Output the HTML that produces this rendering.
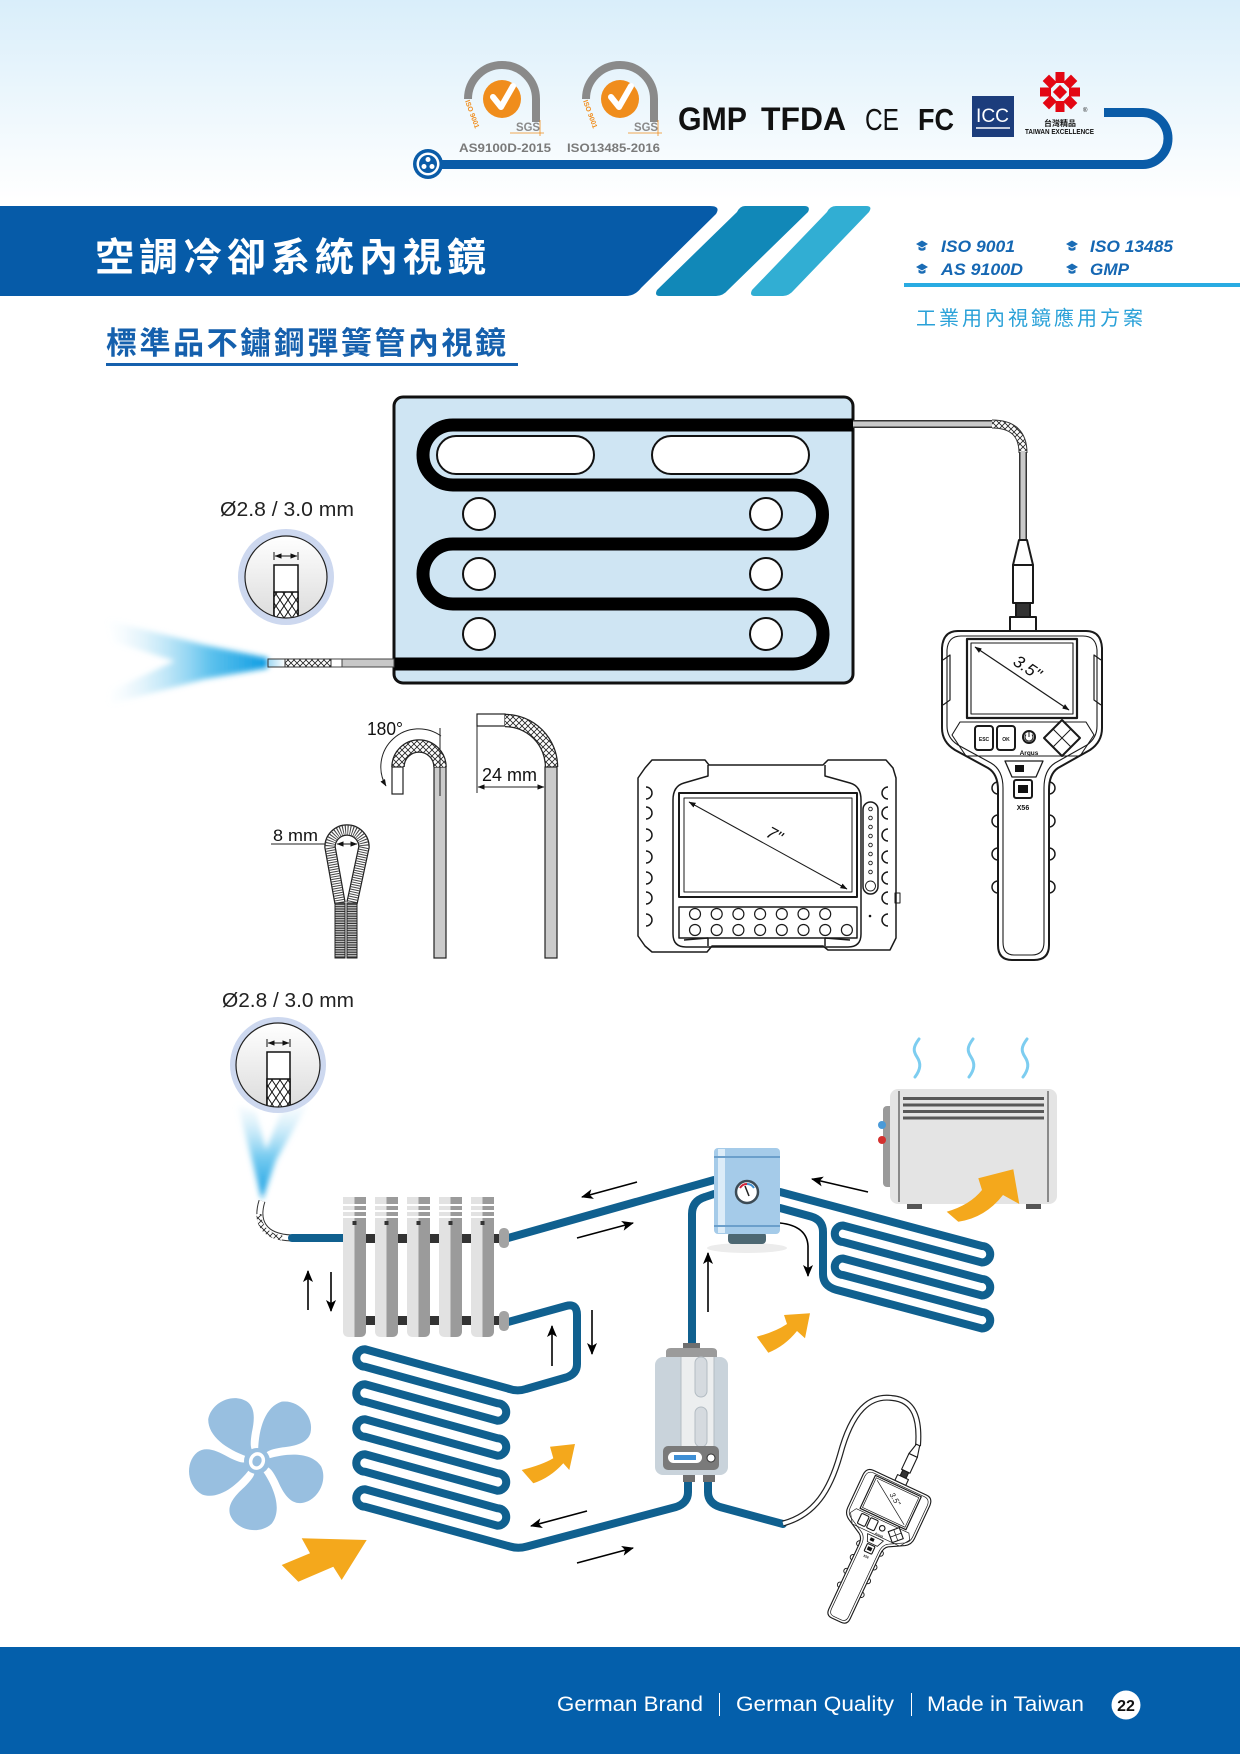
<!DOCTYPE html>
<html lang="zh-Hant"><head><meta charset="utf-8"><title>空調冷卻系統內視鏡</title>
<style>
html,body{margin:0;padding:0;background:#fff;width:1240px;height:1754px;overflow:hidden}
svg{display:block}
text{font-family:"Liberation Sans","Noto Sans CJK TC",sans-serif}
</style></head><body>
<svg xmlns="http://www.w3.org/2000/svg" width="1240" height="1754" viewBox="0 0 1240 1754">
<defs>
 <linearGradient id="bg" x1="0" y1="0" x2="0" y2="1">
  <stop offset="0" stop-color="#d9eefa"/><stop offset="1" stop-color="#ffffff"/>
 </linearGradient>
 <linearGradient id="badge" x1="0" y1="0" x2="0" y2="1">
  <stop offset="0" stop-color="#ffffff"/><stop offset="1" stop-color="#dcdcdc"/>
 </linearGradient>
 <linearGradient id="beam1" gradientUnits="userSpaceOnUse" x1="268" y1="0" x2="105" y2="0">
  <stop offset="0" stop-color="#0b9be2"/><stop offset="0.35" stop-color="#3fb6ea" stop-opacity="0.85"/><stop offset="1" stop-color="#d4ecf8" stop-opacity="0"/>
 </linearGradient>
 <linearGradient id="beam2" gradientUnits="userSpaceOnUse" x1="0" y1="1200" x2="0" y2="1105">
  <stop offset="0" stop-color="#0b9be2"/><stop offset="0.45" stop-color="#53bdec" stop-opacity="0.8"/><stop offset="1" stop-color="#d8eef9" stop-opacity="0.2"/>
 </linearGradient>
 <linearGradient id="tip" x1="0" y1="0" x2="1" y2="0">
  <stop offset="0" stop-color="#9fd8f3"/><stop offset="1" stop-color="#ffffff"/>
 </linearGradient>
 <filter id="blur" x="-30%" y="-30%" width="160%" height="160%"><feGaussianBlur stdDeviation="3"/></filter>
 <pattern id="braid" width="6" height="6" patternUnits="userSpaceOnUse">
  <rect width="6" height="6" fill="#fff"/><path d="M0,0 L6,6 M6,0 L0,6" stroke="#222" stroke-width="0.8"/>
 </pattern>
 <pattern id="braid2" width="8" height="12" patternUnits="userSpaceOnUse">
  <rect width="8" height="12" fill="#fff"/><path d="M0,0 L8,12 M8,0 L0,12" stroke="#111" stroke-width="1"/>
 </pattern>
 <pattern id="rib" width="4" height="2.4" patternUnits="userSpaceOnUse">
  <rect width="4" height="2.4" fill="#d0d0d0"/><rect y="1.2" width="4" height="1.2" fill="#333"/>
 </pattern>
 <clipPath id="c1"><circle cx="286" cy="577" r="41"/></clipPath>
 <clipPath id="c2"><circle cx="278" cy="1065" r="42"/></clipPath>
 <marker id="ah" viewBox="0 0 12 10" refX="11" refY="5" markerWidth="12" markerHeight="10" markerUnits="userSpaceOnUse" orient="auto">
  <path d="M0,0 L12,5 L0,10 L3,5 Z" fill="#000"/>
 </marker>
 <marker id="dm" viewBox="0 0 8 6" refX="7.5" refY="3" markerWidth="7" markerHeight="6" markerUnits="userSpaceOnUse" orient="auto-start-reverse">
  <path d="M0,0 L8,3 L0,6 Z" fill="#111"/>
 </marker>
</defs>

<!-- ===== HEADER ===== -->
<rect x="0" y="0" width="1240" height="200" fill="url(#bg)"/>

<!-- SGS logo 1 -->
<g>
 <path d="M536,122 V99 A34,34 0 0 0 468,99" fill="none" stroke="#8a8a8a" stroke-width="8"/>
 <circle cx="502" cy="99" r="19" fill="#f08d1c"/>
 <path d="M493,97 L501,107 L513,86" fill="none" stroke="#fff" stroke-width="6" stroke-linecap="round" stroke-linejoin="round"/>
 <text transform="translate(465,101) rotate(70)" font-size="7" font-weight="bold" fill="#f08d1c">ISO 9001</text>
 <text x="516" y="131" font-size="12" font-weight="bold" fill="#8a8a8a" textLength="24" lengthAdjust="spacingAndGlyphs">SGS</text>
 <path d="M510,133 H544 M540,120 V136" stroke="#f08d1c" stroke-width="0.8"/>
 <text x="459" y="152" font-size="12" font-weight="bold" fill="#7a7a7a" textLength="92" lengthAdjust="spacingAndGlyphs">AS9100D-2015</text>
</g>
<!-- SGS logo 2 -->
<g>
 <path d="M654,122 V99 A34,34 0 0 0 586,99" fill="none" stroke="#8a8a8a" stroke-width="8"/>
 <circle cx="620" cy="99" r="19" fill="#f08d1c"/>
 <path d="M611,97 L619,107 L631,86" fill="none" stroke="#fff" stroke-width="6" stroke-linecap="round" stroke-linejoin="round"/>
 <text transform="translate(583,101) rotate(70)" font-size="7" font-weight="bold" fill="#f08d1c">ISO 9001</text>
 <text x="634" y="131" font-size="12" font-weight="bold" fill="#8a8a8a" textLength="24" lengthAdjust="spacingAndGlyphs">SGS</text>
 <path d="M628,133 H662 M658,120 V136" stroke="#f08d1c" stroke-width="0.8"/>
 <text x="567" y="152" font-size="12" font-weight="bold" fill="#7a7a7a" textLength="93" lengthAdjust="spacingAndGlyphs">ISO13485-2016</text>
</g>
<text x="678" y="130" font-size="32" font-weight="bold" fill="#111" textLength="69" lengthAdjust="spacingAndGlyphs">GMP</text>
<text x="761" y="130" font-size="32" font-weight="bold" fill="#111" textLength="85" lengthAdjust="spacingAndGlyphs">TFDA</text>
<text x="865" y="130" font-size="31" fill="#111" textLength="34" lengthAdjust="spacingAndGlyphs">CE</text>
<text x="918" y="130" font-size="31" font-weight="bold" fill="#111" textLength="36" lengthAdjust="spacingAndGlyphs">FC</text>
<rect x="972" y="96" width="42" height="41" fill="#1c3d7c"/>
<text x="976" y="122" font-size="19" fill="#fff" textLength="33" lengthAdjust="spacingAndGlyphs">ICC</text>
<path d="M976,128 H1010" stroke="#fff" stroke-width="1.5"/>
<g transform="translate(1060,92)" fill="#e30613">
 <rect x="-4.5" y="-20" width="9" height="11" transform="rotate(0)"/>
 <rect x="-4.5" y="-20" width="9" height="11" transform="rotate(45)"/>
 <rect x="-4.5" y="-20" width="9" height="11" transform="rotate(90)"/>
 <rect x="-4.5" y="-20" width="9" height="11" transform="rotate(135)"/>
 <rect x="-4.5" y="-20" width="9" height="11" transform="rotate(180)"/>
 <rect x="-4.5" y="-20" width="9" height="11" transform="rotate(225)"/>
 <rect x="-4.5" y="-20" width="9" height="11" transform="rotate(270)"/>
 <rect x="-4.5" y="-20" width="9" height="11" transform="rotate(315)"/>
 <rect x="-5" y="-5" width="10" height="10" transform="rotate(45)"/>
</g>
<text x="1083" y="112" font-size="6" fill="#111">®</text>
<text x="1060" y="126" font-size="8" font-weight="bold" fill="#111" text-anchor="middle">台灣精品</text>
<text x="1025" y="134" font-size="7" font-weight="bold" fill="#111" textLength="69" lengthAdjust="spacingAndGlyphs">TAIWAN EXCELLENCE</text>

<!-- blue line -->
<path d="M1104,112.5 H1142 A26,26 0 0 1 1168,138.5 A26,26 0 0 1 1142,164.5 H430" fill="none" stroke="#0a5ca8" stroke-width="9"/>
<circle cx="428" cy="164" r="15" fill="#0a5ca8"/>
<circle cx="428" cy="164" r="11.5" fill="#fff"/>
<circle cx="428" cy="164" r="9" fill="#0a5ca8"/>
<circle cx="428" cy="159.5" r="2.5" fill="#fff"/>
<circle cx="424" cy="166.5" r="2.5" fill="#fff"/>
<circle cx="432" cy="166.5" r="2.5" fill="#fff"/>

<!-- ===== BANNER ===== -->
<path d="M0,206 H710 Q721,206 716,214 L641,288 Q635,296 625,296 H0 Z" fill="#065ba8"/>
<path d="M745,206 H804 Q811,206 808,212 L728,290 Q723,296 716,296 H660 Q654,296 657,290 L737,212 Q740,206 745,206 Z" fill="#1188b8"/>
<path d="M836,206 H866 Q873,206 869,212 L794,290 Q789,296 783,296 H755 Q749,296 752,290 L827,212 Q830,206 836,206 Z" fill="#31aed3"/>
<text x="95" y="271" font-size="39" font-weight="bold" fill="#fff" textLength="391">空調冷卻系統內視鏡</text>

<g fill="#1a6cb5">
 <path d="M916,244 l6,-3.5 l6,3.5 l-6,3.5z M918.5,246.5 v3 q3.5,2.5 7,0 v-3 l-3.5,2z"/>
 <path d="M1066,244 l6,-3.5 l6,3.5 l-6,3.5z M1068.5,246.5 v3 q3.5,2.5 7,0 v-3 l-3.5,2z"/>
 <path d="M916,267 l6,-3.5 l6,3.5 l-6,3.5z M918.5,269.5 v3 q3.5,2.5 7,0 v-3 l-3.5,2z"/>
 <path d="M1066,267 l6,-3.5 l6,3.5 l-6,3.5z M1068.5,269.5 v3 q3.5,2.5 7,0 v-3 l-3.5,2z"/>
</g>
<g font-size="17" font-weight="bold" font-style="italic" fill="#1567b3">
 <text x="941" y="252" textLength="74" lengthAdjust="spacingAndGlyphs">ISO 9001</text>
 <text x="1090" y="252" textLength="83" lengthAdjust="spacingAndGlyphs">ISO 13485</text>
 <text x="941" y="275" textLength="82" lengthAdjust="spacingAndGlyphs">AS 9100D</text>
 <text x="1090" y="275" textLength="39" lengthAdjust="spacingAndGlyphs">GMP</text>
</g>
<rect x="904" y="283" width="336" height="4" fill="#29abe2"/>
<text x="916" y="325" font-size="20" fill="#2aa1d8" textLength="227">工業用內視鏡應用方案</text>

<text x="106" y="354" font-size="31" font-weight="bold" fill="#1560ad" textLength="400">標準品不鏽鋼彈簧管內視鏡</text>
<rect x="106" y="363" width="412" height="3" fill="#1560ad"/>

<!-- ===== DIAGRAM 1 : PANEL ===== -->
<rect x="394" y="397" width="459" height="286" rx="9" fill="#cfe5f3" stroke="#111" stroke-width="3"/>
<path d="M853,425 H453 A30,30 0 0 0 453,485 H793 A29.5,29.5 0 0 1 793,544 H453 A30,30 0 0 0 453,604 H793 A30,30 0 0 1 793,664 H394" fill="none" stroke="#000" stroke-width="13"/>
<g fill="#fff" stroke="#111" stroke-width="2">
 <rect x="437" y="436" width="157" height="38" rx="19"/>
 <rect x="652" y="436" width="157" height="38" rx="19"/>
 <circle cx="479" cy="514" r="16"/><circle cx="766" cy="514" r="16"/>
 <circle cx="479" cy="574" r="16"/><circle cx="766" cy="574" r="16"/>
 <circle cx="479" cy="634" r="16"/><circle cx="766" cy="634" r="16"/>
</g>

<!-- left probe + beam -->
<path d="M268,658 L205,645 L108,620 L114,642 L175,661 L112,690 L110,704 L205,679 L268,668 Z" fill="url(#beam1)" filter="url(#blur)"/>
<rect x="342" y="659" width="52" height="8" fill="#c8c8c8" stroke="#444" stroke-width="1"/>
<rect x="331" y="659" width="11" height="8" fill="#fff" stroke="#444" stroke-width="1"/>
<rect x="285" y="659" width="46" height="8" fill="url(#braid)" stroke="#333" stroke-width="1"/>
<rect x="268" y="659" width="17" height="8" fill="url(#tip)" stroke="#333" stroke-width="1"/>

<!-- badge 1 -->
<text x="220" y="516" font-size="20" fill="#222" textLength="134" lengthAdjust="spacingAndGlyphs">Ø2.8 / 3.0 mm</text>
<circle cx="286" cy="577" r="48" fill="#cdd8ef"/>
<circle cx="286" cy="577" r="41" fill="url(#badge)"/>
<g clip-path="url(#c1)">
 <rect x="274" y="565" width="24" height="60" fill="#fff" stroke="#111" stroke-width="1.5"/>
 <rect x="274" y="592" width="24" height="33" fill="url(#braid2)" stroke="#111" stroke-width="1.5"/>
</g>
<circle cx="286" cy="577" r="41" fill="none" stroke="#222" stroke-width="1.2"/>
<path d="M274,552 V560 M298,552 V560" stroke="#111" stroke-width="1"/>
<line x1="275" y1="556" x2="297" y2="556" stroke="#111" stroke-width="1" marker-start="url(#dm)" marker-end="url(#dm)"/>

<!-- right cable -->
<path d="M853,424 H992" stroke="#333" stroke-width="8" fill="none"/>
<path d="M853,424 H993" stroke="#c9c9c9" stroke-width="5" fill="none"/>
<path d="M992,424 Q1023,424 1023,453" stroke="#333" stroke-width="9" fill="none"/>
<path d="M992,424 Q1023,424 1023,453" stroke="url(#braid)" stroke-width="7" fill="none"/>
<path d="M1023,452 V541" stroke="#333" stroke-width="8" fill="none"/>
<path d="M1023,451 V541" stroke="#c9c9c9" stroke-width="5" fill="none"/>

<!-- X56 device (big) -->
<g fill="#fff" stroke="#1a1a1a" stroke-width="2" stroke-linejoin="round">
 <path d="M1019,540 H1027 L1033,565 H1013 Z"/>
 <rect x="1013" y="565" width="20" height="38"/>
 <rect x="1016" y="603" width="14" height="14" fill="#333"/>
 <rect x="1010" y="617" width="26" height="14"/>
 <path d="M958,631 H1086 Q1101,631 1102,648 V728 Q1102,742 1090,750 L1058,768 Q1049,774 1049,790 V945 Q1049,960 1034,960 H1012 Q998,960 998,945 V790 Q998,774 988,768 L955,750 Q942,742 942,728 V648 Q943,631 958,631 Z"/>
 <path d="M961,636 H1083 Q1096,636 1097,650 V726 Q1097,738 1087,745 L1055,763 Q1044,770 1044,788 V942 Q1044,955 1032,955 H1014 Q1003,955 1003,942 V788 Q1003,770 991,763 L958,745 Q947,738 947,726 V650 Q948,636 961,636 Z" fill="none" stroke-width="1.1"/>
 <path d="M943,660 L950,655 V700 L943,705 M1101,660 L1094,655 V700 L1101,705" fill="none" stroke-width="1.2"/>
 <path d="M998,782 A6,6 0 0 0 998,794 M998,815 A6,6 0 0 0 998,827 M998,848 A6,6 0 0 0 998,860 M998,881 A6,6 0 0 0 998,893" fill="none" stroke-width="1.5"/>
 <path d="M1049,782 A6,6 0 0 1 1049,794 M1049,815 A6,6 0 0 1 1049,827 M1049,848 A6,6 0 0 1 1049,860 M1049,881 A6,6 0 0 1 1049,893" fill="none" stroke-width="1.5"/>
 <rect x="967" y="639" width="110" height="79" stroke-width="2.2"/>
 <rect x="971" y="643" width="102" height="71" stroke-width="1.1" fill="none"/>
 <line x1="975" y1="647" x2="1069" y2="710" stroke-width="1.2" marker-start="url(#dm)" marker-end="url(#dm)"/>
 <path d="M960,722 H1086 L1094,735 L1080,756 H966 L952,735 Z" fill="none" stroke-width="1.1"/>
 <rect x="975" y="726" width="18" height="24" rx="3"/>
 <rect x="997" y="726" width="18" height="24" rx="3"/>
 <circle cx="1029" cy="737" r="6"/>
 <path d="M1029,732 V737 M1026,734.5 A4,4 0 1 0 1032,734.5" fill="none" stroke-width="1"/>
 <path d="M1062,720 L1080,738 L1062,756 L1044,738 Z"/>
 <path d="M1053,729 L1071,747 M1071,729 L1053,747" fill="none" stroke-width="1"/>
 <path d="M1005,761 H1043 L1036,777 H1012 Z" fill="none" stroke-width="1.3"/>
 <rect x="1015" y="765" width="9" height="7" fill="#111" stroke="none"/>
 <rect x="1014" y="780" width="18" height="18" rx="2"/>
 <rect x="1018" y="785" width="10" height="8" fill="#111" stroke="none"/>
</g>
<g fill="#111">
 <text transform="translate(1012,664) rotate(34)" font-size="17" font-style="italic">3.5"</text>
 <text x="984" y="741" font-size="5" font-weight="bold" text-anchor="middle">ESC</text>
 <text x="1006" y="741" font-size="5" font-weight="bold" text-anchor="middle">OK</text>
 <text x="1029" y="755" font-size="6.5" font-weight="bold" text-anchor="middle">Argus</text>
 <text x="1023" y="810" font-size="7" font-weight="bold" text-anchor="middle">X56</text>
</g>

<!-- 7 inch device -->
<g fill="none" stroke="#1a1a1a" stroke-width="1.5" stroke-linejoin="round">
 <path d="M645,768 L652,760 H705 L709,765 H823 L828,760 H886 L893,768 L896,778 V938 L890,950 H828 L823,946 H712 L707,952 H652 L645,946 L638,936 V778 Z" fill="#fff"/>
 <path d="M708,765 V776 L684,783 Q673,786 673,800 V934 Q673,947 686,947 H848 Q861,947 861,934 V800 Q861,786 850,783 L825,776 V765"/>
 <path d="M708,946 V938 L684,940 M825,946 V938 L850,940"/>
 <path d="M646,787 A6,6 0 0 1 646,799 M646,807 A6,6 0 0 1 646,819 M646,829 A6,6 0 0 1 646,841 M646,851 A6,6 0 0 1 646,863 M646,872 A6,6 0 0 1 646,884 M646,892 A6,6 0 0 1 646,904 M646,914 A6,6 0 0 1 646,926"/>
 <path d="M888,787 A6,6 0 0 0 888,799 M888,807 A6,6 0 0 0 888,819 M888,829 A6,6 0 0 0 888,841 M888,851 A6,6 0 0 0 888,863 M888,872 A6,6 0 0 0 888,884 M888,892 A6,6 0 0 0 888,904 M888,914 A6,6 0 0 0 888,926"/>
 <rect x="679" y="793" width="178" height="104" stroke-width="2"/>
 <rect x="684" y="798" width="168" height="94" stroke-width="1"/>
 <line x1="689" y1="802" x2="847" y2="889" stroke-width="1" marker-start="url(#dm)" marker-end="url(#dm)"/>
 <rect x="679" y="907" width="178" height="31"/>
 <rect x="863" y="802" width="15" height="92" rx="7.5"/>
 <rect x="895" y="893" width="5" height="10" stroke-width="1"/>
 <g stroke-width="1.2">
  <circle cx="695" cy="914" r="5.5"/><circle cx="716.7" cy="914" r="5.5"/><circle cx="738.4" cy="914" r="5.5"/><circle cx="760.1" cy="914" r="5.5"/><circle cx="781.8" cy="914" r="5.5"/><circle cx="803.5" cy="914" r="5.5"/><circle cx="825.2" cy="914" r="5.5"/>
  <circle cx="695" cy="930" r="5.5"/><circle cx="716.7" cy="930" r="5.5"/><circle cx="738.4" cy="930" r="5.5"/><circle cx="760.1" cy="930" r="5.5"/><circle cx="781.8" cy="930" r="5.5"/><circle cx="803.5" cy="930" r="5.5"/><circle cx="825.2" cy="930" r="5.5"/><circle cx="846.9" cy="930" r="5.5"/>
 </g>
 <g stroke-width="0.9">
  <circle cx="870.5" cy="809" r="1.8"/><circle cx="870.5" cy="818" r="1.8"/><circle cx="870.5" cy="827" r="1.8"/><circle cx="870.5" cy="836" r="1.8"/><circle cx="870.5" cy="845" r="1.8"/><circle cx="870.5" cy="854" r="1.8"/><circle cx="870.5" cy="863" r="1.8"/><circle cx="870.5" cy="872" r="1.8"/>
  <circle cx="870.5" cy="886" r="5"/>
 </g>
</g>
<circle cx="870" cy="916" r="1.3" fill="#111"/>
<text transform="translate(765,836) rotate(29)" font-size="17" font-style="italic" fill="#111">7"</text>

<!-- bends -->
<text x="367" y="735" font-size="18" fill="#111" textLength="36" lengthAdjust="spacingAndGlyphs">180°</text>
<rect x="434" y="767" width="12" height="191" fill="#cbcbcb" stroke="#222" stroke-width="1.2"/>
<path d="M398,767 A21,21 0 0 1 440,767" fill="none" stroke="#222" stroke-width="13.5"/>
<path d="M398,767 A21,21 0 0 1 440,767" fill="none" stroke="url(#braid)" stroke-width="11"/>
<rect x="392" y="767" width="11" height="27" fill="#fff" stroke="#222" stroke-width="1.2"/>
<line x1="440" y1="728" x2="440" y2="796" stroke="#222" stroke-width="1"/>
<path d="M441,736 A38,38 0 0 0 386,786" fill="none" stroke="#222" stroke-width="1" marker-end="url(#dm)"/>

<rect x="477" y="714" width="28" height="12" fill="#fff" stroke="#222" stroke-width="1.2"/>
<path d="M505,720.5 A46.5,46.5 0 0 1 551.5,767" fill="none" stroke="#222" stroke-width="13.5"/>
<path d="M505,720.5 A46.5,46.5 0 0 1 551.5,767" fill="none" stroke="url(#braid)" stroke-width="11"/>
<rect x="545" y="767" width="12" height="191" fill="#cbcbcb" stroke="#222" stroke-width="1.2"/>
<line x1="477" y1="726" x2="477" y2="793" stroke="#222" stroke-width="1"/>
<line x1="478" y1="787" x2="544" y2="787" stroke="#222" stroke-width="1" marker-start="url(#dm)" marker-end="url(#dm)"/>
<text x="482" y="781" font-size="18" fill="#111" textLength="55" lengthAdjust="spacingAndGlyphs">24 mm</text>

<!-- 8 mm loop -->
<text x="273" y="841" font-size="17" fill="#111" textLength="45" lengthAdjust="spacingAndGlyphs">8 mm</text>
<line x1="271" y1="844" x2="330" y2="844" stroke="#222" stroke-width="1"/>
<path d="M340,903 L330,847 A17,17 0 0 1 364,847 L352,903" fill="none" stroke="#222" stroke-width="11.5" stroke-linejoin="round"/>
<path d="M340,903 L330,847 A17,17 0 0 1 364,847 L352,903" fill="none" stroke="#fff" stroke-width="9" stroke-linejoin="round"/>
<path d="M340,903 L330,847 A17,17 0 0 1 364,847 L352,903" fill="none" stroke="#444" stroke-width="9" stroke-dasharray="1 1.4"/>
<line x1="337" y1="844" x2="357" y2="844" stroke="#111" stroke-width="1" marker-start="url(#dm)" marker-end="url(#dm)"/>
<rect x="335" y="903" width="10" height="55" fill="url(#rib)" stroke="#222" stroke-width="1"/>
<rect x="347" y="903" width="10" height="55" fill="url(#rib)" stroke="#222" stroke-width="1"/>

<!-- ===== DIAGRAM 2 : AC SYSTEM ===== -->
<text x="222" y="1007" font-size="20" fill="#222" textLength="132" lengthAdjust="spacingAndGlyphs">Ø2.8 / 3.0 mm</text>
<path d="M262,1200 L252,1160 L238,1106 L256,1112 L266,1150 L282,1110 L308,1104 L276,1160 Z" fill="url(#beam2)" filter="url(#blur)"/>
<circle cx="278" cy="1065" r="48" fill="#cdd8ef"/>
<circle cx="278" cy="1065" r="42" fill="url(#badge)"/>
<g clip-path="url(#c2)">
 <rect x="267" y="1052" width="23" height="60" fill="#fff" stroke="#111" stroke-width="1.5"/>
 <rect x="267" y="1079" width="23" height="33" fill="url(#braid2)" stroke="#111" stroke-width="1.5"/>
</g>
<circle cx="278" cy="1065" r="42" fill="none" stroke="#222" stroke-width="1.2"/>
<path d="M267,1039 V1047 M290,1039 V1047" stroke="#111" stroke-width="1"/>
<line x1="268" y1="1043" x2="289" y2="1043" stroke="#111" stroke-width="1" marker-start="url(#dm)" marker-end="url(#dm)"/>

<!-- probe -->
<path d="M262,1201 C256,1220 262,1237 292,1238" fill="none" stroke="#333" stroke-width="7"/>
<path d="M262,1201 C256,1220 262,1237 292,1238" fill="none" stroke="#fff" stroke-width="5"/>
<path d="M259,1214 C259,1228 268,1236 282,1238" fill="none" stroke="url(#braid)" stroke-width="5"/>

<!-- pipes -->
<g fill="none" stroke="#10608f" stroke-width="8" stroke-linecap="round" stroke-linejoin="round">
 <path d="M292,1238 H343"/>
 <path d="M508,1238 L714,1180"/>
 <path d="M508,1322 L566,1306 Q577,1303 577,1315 V1364 Q577,1374 566,1377.5 L526,1389 Q517,1392 508,1388.5 L365,1349.25 A8.75,8.75 0 0 0 365,1366.75 L497.5,1403.25 A8.75,8.75 0 0 1 497.5,1420.75 L365,1384.25 A8.75,8.75 0 0 0 365,1401.75 L497.5,1438.25 A8.75,8.75 0 0 1 497.5,1455.75 L365,1419.25 A8.75,8.75 0 0 0 365,1436.75 L497.5,1473.25 A8.75,8.75 0 0 1 497.5,1490.75 L365,1454.25 A8.75,8.75 0 0 0 365,1471.75 L497.5,1508.25 A8.75,8.75 0 0 1 497.5,1525.75 L365,1489.25 A8.75,8.75 0 0 0 365,1506.75 L510,1546.5 Q518,1549 527,1546.5 L676,1507 Q688,1503 688,1492 V1482"/>
 <path d="M714,1194 L705,1197 Q692,1201 692,1214 V1344"/>
 <path d="M780,1192 L982,1246 A8.25,8.25 0 0 1 982,1262.5 L843,1225.5 A8.25,8.25 0 0 0 843,1242 L982,1279 A8.25,8.25 0 0 1 982,1295.5 L843,1258.5 A8.25,8.25 0 0 0 843,1275 L982,1312 A8.25,8.25 0 0 1 982,1328.5 L836,1289.7 Q823,1286 823,1274 V1232 Q823,1220 811,1216.5 L780,1208"/>
 <path d="M708,1482 V1492 Q708,1503 720,1507 L783,1524"/>
</g>

<!-- black flow arrows -->
<g stroke="#000" stroke-width="1.6" fill="none" marker-end="url(#ah)">
 <line x1="308" y1="1310" x2="308" y2="1271"/>
 <line x1="331" y1="1272" x2="331" y2="1311"/>
 <line x1="637" y1="1182" x2="582" y2="1197"/>
 <line x1="577" y1="1238" x2="633" y2="1223"/>
 <line x1="708" y1="1312" x2="708" y2="1253"/>
 <line x1="868" y1="1192" x2="812" y2="1179"/>
 <path d="M780,1223 Q807,1226 808,1246 V1276"/>
 <line x1="552" y1="1366" x2="552" y2="1326"/>
 <line x1="592" y1="1310" x2="592" y2="1354"/>
 <line x1="587" y1="1511" x2="531" y2="1526"/>
 <line x1="577" y1="1563" x2="633" y2="1548"/>
</g>

<!-- radiator -->
<g>
 <g fill="#e2e2e2">
  <path d="M343,1197 H366 V1331 Q366,1337 360,1337 H349 Q343,1337 343,1331 Z"/>
  <path d="M375,1197 H398 V1331 Q398,1337 392,1337 H381 Q375,1337 375,1331 Z"/>
  <path d="M407,1197 H430 V1331 Q430,1337 424,1337 H413 Q407,1337 407,1331 Z"/>
  <path d="M439,1197 H462 V1331 Q462,1337 456,1337 H445 Q439,1337 439,1331 Z"/>
  <path d="M471,1197 H494 V1331 Q494,1337 488,1337 H477 Q471,1337 471,1331 Z"/>
 </g>
 <g fill="#9b9b9b">
  <path d="M354.5,1197 H366 V1331 Q366,1337 360,1337 H354.5 Z"/>
  <path d="M386.5,1197 H398 V1331 Q398,1337 392,1337 H386.5 Z"/>
  <path d="M418.5,1197 H430 V1331 Q430,1337 424,1337 H418.5 Z"/>
  <path d="M450.5,1197 H462 V1331 Q462,1337 456,1337 H450.5 Z"/>
  <path d="M482.5,1197 H494 V1331 Q494,1337 488,1337 H482.5 Z"/>
 </g>
 <path d="M343,1205 H366 M343,1211 H366 M343,1217 H366 M375,1205 H398 M375,1211 H398 M375,1217 H398 M407,1205 H430 M407,1211 H430 M407,1217 H430 M439,1205 H462 M439,1211 H462 M439,1217 H462 M471,1205 H494 M471,1211 H494 M471,1217 H494" stroke="#fff" stroke-width="2"/>
 <g fill="#333">
  <rect x="352.5" y="1221" width="4" height="4"/><rect x="384.5" y="1221" width="4" height="4"/><rect x="416.5" y="1221" width="4" height="4"/><rect x="448.5" y="1221" width="4" height="4"/><rect x="480.5" y="1221" width="4" height="4"/>
  <rect x="366" y="1234" width="9" height="9"/><rect x="398" y="1234" width="9" height="9"/><rect x="430" y="1234" width="9" height="9"/><rect x="462" y="1234" width="9" height="9"/><rect x="494" y="1234" width="6" height="9"/>
  <rect x="366" y="1316" width="9" height="9"/><rect x="398" y="1316" width="9" height="9"/><rect x="430" y="1316" width="9" height="9"/><rect x="462" y="1316" width="9" height="9"/><rect x="494" y="1316" width="6" height="9"/>
 </g>
 <rect x="499" y="1228" width="10" height="20" rx="4.5" fill="#a3a3a3"/>
 <rect x="499" y="1311" width="10" height="20" rx="4.5" fill="#a3a3a3"/>
</g>

<!-- receiver tank -->
<ellipse cx="747" cy="1248" rx="40" ry="5" fill="#ececec"/>
<rect x="728" y="1232" width="38" height="12" rx="4" fill="#4d6873"/>
<rect x="714" y="1148" width="66" height="86" rx="4" fill="#a5cbe9"/>
<rect x="718" y="1149" width="7" height="84" fill="#dcecf8"/>
<path d="M714,1157 H780 M714,1226 H780" stroke="#6b9fcb" stroke-width="2"/>
<circle cx="747" cy="1192" r="11" fill="#fff" stroke="#3c4b55" stroke-width="2.5"/>
<path d="M740,1188 A8,8 0 0 1 747,1184" fill="none" stroke="#d0243a" stroke-width="2"/>
<path d="M747,1184 A8,8 0 0 1 754,1188" fill="none" stroke="#3d8fd1" stroke-width="2"/>
<line x1="745" y1="1186" x2="749" y2="1196" stroke="#222" stroke-width="1.5"/>

<!-- filter drier -->
<rect x="683" y="1343" width="17" height="6" fill="#6f6f6f"/>
<path d="M666,1357 V1352 Q666,1348 671,1348 H712 Q717,1348 717,1352 V1357 Z" fill="#9b9b9b"/>
<rect x="655" y="1357" width="73" height="118" rx="8" fill="#c9d3db"/>
<rect x="681" y="1357" width="33" height="90" fill="#eceeef"/>
<path d="M681,1357 V1447 M714,1357 V1447" stroke="#b3bcc3" stroke-width="1"/>
<rect x="695" y="1357" width="12" height="40" rx="6" fill="#d5dadf" stroke="#b3bcc3" stroke-width="1"/>
<rect x="695" y="1407" width="12" height="40" rx="6" fill="#d5dadf" stroke="#b3bcc3" stroke-width="1"/>
<rect x="663" y="1446" width="56" height="24" rx="5" fill="#7a7a7a"/>
<rect x="668" y="1452" width="34" height="11" rx="5.5" fill="#fff"/>
<rect x="674" y="1455" width="22" height="5" fill="#3f8fd5"/>
<circle cx="711" cy="1458" r="4" fill="#fff" stroke="#333" stroke-width="1"/>
<rect x="683" y="1475" width="12" height="7" fill="#6f6f6f"/>
<rect x="703" y="1475" width="12" height="7" fill="#6f6f6f"/>

<!-- heater -->
<path d="M919,1039 C913,1047 913,1051 917,1057 C921,1063 921,1069 915,1077" fill="none" stroke="#7dcdf0" stroke-width="3" stroke-linecap="round"/>
<path d="M973,1039 C967,1047 967,1051 971,1057 C975,1063 975,1069 969,1077" fill="none" stroke="#7dcdf0" stroke-width="3" stroke-linecap="round"/>
<path d="M1027,1039 C1021,1047 1021,1051 1025,1057 C1029,1063 1029,1069 1023,1077" fill="none" stroke="#7dcdf0" stroke-width="3" stroke-linecap="round"/>
<rect x="883" y="1106" width="12" height="81" rx="4" fill="#9a9a9a"/>
<circle cx="882" cy="1125" r="4" fill="#4a9ad8"/>
<circle cx="882" cy="1140" r="4" fill="#d4312f"/>
<rect x="890" y="1089" width="167" height="115" rx="8" fill="#e4e4e4"/>
<path d="M899,1091 V1202 M1048,1091 V1202" stroke="#8a8a8a" stroke-width="2"/>
<path d="M903,1098.5 H1044 M903,1105 H1044 M903,1111.5 H1044 M903,1118 H1044" stroke="#585858" stroke-width="3"/>
<rect x="907" y="1204" width="15" height="5" fill="#555"/>
<rect x="1026" y="1204" width="15" height="5" fill="#555"/>

<!-- fan -->
<g transform="translate(257,1461)" fill="#98bfe0">
 <path d="M-4,-10 C-14,-30 -18,-52 -6,-64 C8,-74 30,-66 34,-50 C36,-40 28,-32 16,-24 C8,-18 4,-14 4,-10 Z" transform="rotate(-44)"/>
 <path d="M-4,-10 C-14,-30 -18,-52 -6,-64 C8,-74 30,-66 34,-50 C36,-40 28,-32 16,-24 C8,-18 4,-14 4,-10 Z" transform="rotate(28)"/>
 <path d="M-4,-10 C-14,-30 -18,-52 -6,-64 C8,-74 30,-66 34,-50 C36,-40 28,-32 16,-24 C8,-18 4,-14 4,-10 Z" transform="rotate(100)"/>
 <path d="M-4,-10 C-14,-30 -18,-52 -6,-64 C8,-74 30,-66 34,-50 C36,-40 28,-32 16,-24 C8,-18 4,-14 4,-10 Z" transform="rotate(172)"/>
 <path d="M-4,-10 C-14,-30 -18,-52 -6,-64 C8,-74 30,-66 34,-50 C36,-40 28,-32 16,-24 C8,-18 4,-14 4,-10 Z" transform="rotate(244)"/>
 <circle r="13"/>
 <ellipse rx="8" ry="9" fill="#fff" transform="rotate(20)"/>
 <ellipse rx="4.5" ry="5.5" transform="rotate(20)"/>
</g>

<!-- orange arrows -->
<g fill="#f4a81c">
 <path d="M281.7,1565 L310,1553.3 L301.7,1538.3 L366.7,1540 L341.7,1580 L333.3,1566.7 L298.3,1581.7 Z"/>
 <path d="M521.7,1470 Q542,1465 553.3,1458.3 L550,1446.7 L575,1444 L569.3,1470 L563.3,1463.3 Q550,1478 533.3,1483.3 Z"/>
 <path d="M756.7,1336.7 Q775,1332 787,1324 L784,1315 L810,1313.3 L805,1338.3 L797,1331 Q785,1346 768.3,1352.7 Z"/>
 <path d="M946.7,1211.7 Q970,1205 982,1190 L978.3,1178.3 L1013.3,1169.3 L1019.3,1204 L1003,1195 Q985,1218 958.3,1221.7 Z"/>
</g>

<!-- cable to small device -->
<path d="M783,1523.5 C815,1515 830,1490 840,1455 C852,1410 870,1395 892,1398 C915,1400 920,1420 918,1446" fill="none" stroke="#222" stroke-width="6"/>
<path d="M783,1523.5 C815,1515 830,1490 840,1455 C852,1410 870,1395 892,1398 C915,1400 920,1420 918,1446" fill="none" stroke="#fff" stroke-width="3.6"/>

<!-- X56 device (small, rotated) -->
<g transform="translate(918,1445) rotate(25) scale(0.46) translate(-1023,-540)">
<g fill="#fff" stroke="#1a1a1a" stroke-width="2.4" stroke-linejoin="round">
 <path d="M1019,540 H1027 L1033,565 H1013 Z"/>
 <rect x="1013" y="565" width="20" height="38"/>
 <rect x="1016" y="603" width="14" height="14" fill="#333"/>
 <rect x="1010" y="617" width="26" height="14"/>
 <path d="M958,631 H1086 Q1101,631 1102,648 V728 Q1102,742 1090,750 L1058,768 Q1049,774 1049,790 V945 Q1049,960 1034,960 H1012 Q998,960 998,945 V790 Q998,774 988,768 L955,750 Q942,742 942,728 V648 Q943,631 958,631 Z"/>
 <path d="M961,636 H1083 Q1096,636 1097,650 V726 Q1097,738 1087,745 L1055,763 Q1044,770 1044,788 V942 Q1044,955 1032,955 H1014 Q1003,955 1003,942 V788 Q1003,770 991,763 L958,745 Q947,738 947,726 V650 Q948,636 961,636 Z" fill="none" stroke-width="1.5"/>
 <path d="M998,782 A6,6 0 0 0 998,794 M998,815 A6,6 0 0 0 998,827 M998,848 A6,6 0 0 0 998,860 M998,881 A6,6 0 0 0 998,893" fill="none" stroke-width="2"/>
 <path d="M1049,782 A6,6 0 0 1 1049,794 M1049,815 A6,6 0 0 1 1049,827 M1049,848 A6,6 0 0 1 1049,860 M1049,881 A6,6 0 0 1 1049,893" fill="none" stroke-width="2"/>
 <rect x="967" y="639" width="110" height="79" stroke-width="2.6"/>
 <rect x="971" y="643" width="102" height="71" stroke-width="1.5" fill="none"/>
 <line x1="975" y1="647" x2="1069" y2="710" stroke-width="1.5"/>
 <path d="M960,722 H1086 L1094,735 L1080,756 H966 L952,735 Z" fill="none" stroke-width="1.5"/>
 <rect x="975" y="726" width="18" height="24" rx="3"/>
 <rect x="997" y="726" width="18" height="24" rx="3"/>
 <circle cx="1029" cy="737" r="6"/>
 <path d="M1062,720 L1080,738 L1062,756 L1044,738 Z"/>
 <path d="M1053,729 L1071,747 M1071,729 L1053,747" fill="none" stroke-width="1.5"/>
 <path d="M1005,761 H1043 L1036,777 H1012 Z" fill="none" stroke-width="1.8"/>
 <rect x="1015" y="765" width="9" height="7" fill="#111" stroke="none"/>
 <rect x="1014" y="780" width="18" height="18" rx="2"/>
 <rect x="1018" y="785" width="10" height="8" fill="#111" stroke="none"/>
</g>
<g fill="#111">
 <text transform="translate(1012,664) rotate(34)" font-size="17" font-style="italic">3.5"</text>
 <text x="1029" y="755" font-size="6.5" font-weight="bold" text-anchor="middle">Argus</text>
 <text x="1023" y="810" font-size="7" font-weight="bold" text-anchor="middle">X56</text>
</g>
</g>

<!-- ===== FOOTER ===== -->
<rect x="0" y="1647" width="1240" height="107" fill="#045fab"/>
<g fill="#fff" font-size="21">
 <text x="557" y="1711" textLength="146" lengthAdjust="spacingAndGlyphs">German Brand</text>
 <text x="736" y="1711" textLength="158" lengthAdjust="spacingAndGlyphs">German Quality</text>
 <text x="927" y="1711" textLength="157" lengthAdjust="spacingAndGlyphs">Made in Taiwan</text>
</g>
<path d="M719.5,1693 V1716 M911.5,1693 V1716" stroke="#fff" stroke-width="1"/>
<circle cx="1126" cy="1705" r="14.5" fill="#fff"/>
<text x="1126" y="1711" font-size="16" font-weight="bold" fill="#111" text-anchor="middle">22</text>
</svg>
</body></html>
